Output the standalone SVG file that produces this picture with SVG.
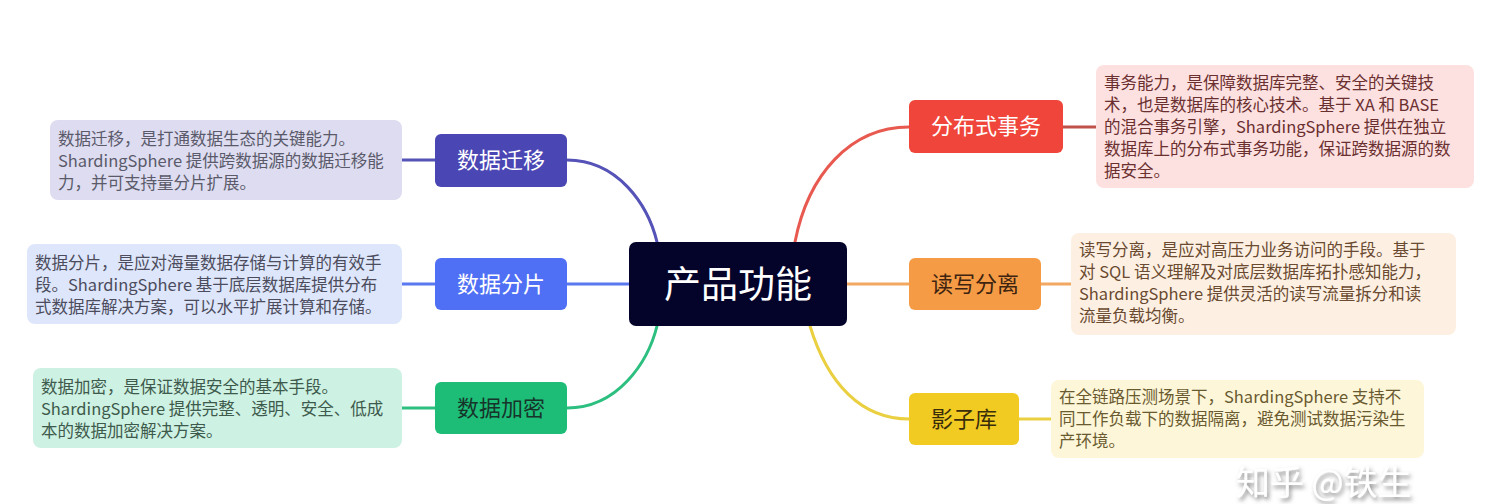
<svg xmlns="http://www.w3.org/2000/svg" width="1504" height="504" viewBox="0 0 1504 504">
<style>
text{font-family:"Noto Sans CJK SC","Noto Sans",sans-serif}
.desc{font-size:16.5px}
.node{font-size:22px;text-anchor:middle}
.conn path,.conn line{fill:none;stroke-width:3;stroke-linecap:round}
</style>
<defs>
<filter id="sh" x="-10%" y="-20%" width="130%" height="150%">
<feDropShadow dx="2" dy="3" stdDeviation="2" flood-color="#555" flood-opacity="0.7"/>
</filter>
</defs>
<rect width="1504" height="504" fill="#ffffff"/>
<g class="conn" id="connectors">
<path d="M567,160 C618,160 648,205 657,242" stroke="#5552b8"/>
<line x1="567" y1="284" x2="629" y2="284" stroke="#5a78f0"/>
<path d="M567,408 C618,408 648,362 657,326" stroke="#2cbf80"/>
<path d="M795,242 C808,175 850,127 909,127" stroke="#e85a50"/>
<line x1="847" y1="284" x2="909" y2="284" stroke="#f2a860"/>
<path d="M810,326 C828,385 862,419 909,419" stroke="#ead040"/>
<line x1="402" y1="160" x2="435" y2="160" stroke="#5552b8"/>
<line x1="402" y1="284" x2="435" y2="284" stroke="#5a78f0"/>
<line x1="402" y1="408" x2="435" y2="408" stroke="#2cbf80"/>
<line x1="1063" y1="127" x2="1096" y2="127" stroke="#c0504a"/>
<line x1="1041" y1="284" x2="1071" y2="284" stroke="#f2a860"/>
<line x1="1019" y1="419" x2="1051" y2="419" stroke="#ead040"/>
</g>
<g id="center">
<rect x="629" y="242" width="218" height="84" rx="7" fill="#04042a"/>
<text x="738" y="298" font-size="37" fill="#ffffff" text-anchor="middle">产品功能</text>
</g>
<g id="n-migrate">
<rect x="435" y="134" width="132" height="53" rx="6" fill="#4a46b4"/>
<text class="node" x="501" y="168" fill="#ffffff">数据迁移</text>
</g>
<g id="n-shard">
<rect x="435" y="258" width="132" height="52" rx="6" fill="#4f6ff4"/>
<text class="node" x="501" y="292" fill="#ffffff">数据分片</text>
</g>
<g id="n-encrypt">
<rect x="435" y="382" width="132" height="52" rx="6" fill="#1dbd78"/>
<text class="node" x="501" y="416" fill="#17342a">数据加密</text>
</g>
<g id="n-tx">
<rect x="909" y="100" width="154" height="53" rx="6" fill="#f0453a"/>
<text class="node" x="986" y="134" fill="#ffffff">分布式事务</text>
</g>
<g id="n-rw">
<rect x="909" y="258" width="132" height="52" rx="6" fill="#f59b45"/>
<text class="node" x="975" y="292" fill="#3e2410">读写分离</text>
</g>
<g id="n-shadow">
<rect x="909" y="393" width="110" height="52" rx="6" fill="#f1ca22"/>
<text class="node" x="964" y="427" fill="#3a2e0a">影子库</text>
</g>
<g id="d-migrate">
<rect x="50" y="120" width="352" height="80" rx="8" fill="#dddcf0"/>
<text class="desc" fill="#5a5a6a"><tspan x="58" y="145">数据迁移，是打通数据生态的关键能力。</tspan><tspan x="58" y="167">ShardingSphere 提供跨数据源的数据迁移能</tspan><tspan x="58" y="189">力，并可支持量分片扩展。</tspan></text>
</g>
<g id="d-shard">
<rect x="27" y="244" width="375" height="80" rx="8" fill="#dde6fb"/>
<text class="desc" fill="#4c4c5c"><tspan x="35" y="269">数据分片，是应对海量数据存储与计算的有效手</tspan><tspan x="35" y="291">段。ShardingSphere 基于底层数据库提供分布</tspan><tspan x="35" y="313">式数据库解决方案，可以水平扩展计算和存储。</tspan></text>
</g>
<g id="d-encrypt">
<rect x="33" y="368" width="369" height="80" rx="8" fill="#cdf1e2"/>
<text class="desc" fill="#3d5a4c"><tspan x="41" y="393">数据加密，是保证数据安全的基本手段。</tspan><tspan x="41" y="415">ShardingSphere 提供完整、透明、安全、低成</tspan><tspan x="41" y="437">本的数据加密解决方案。</tspan></text>
</g>
<g id="d-tx">
<rect x="1096" y="65" width="378" height="123" rx="8" fill="#fde0e0"/>
<text class="desc" fill="#6a3030"><tspan x="1104" y="89">事务能力，是保障数据库完整、安全的关键技</tspan><tspan x="1104" y="111">术，也是数据库的核心技术。基于 XA 和 BASE</tspan><tspan x="1104" y="133">的混合事务引擎，ShardingSphere 提供在独立</tspan><tspan x="1104" y="155">数据库上的分布式事务功能，保证跨数据源的数</tspan><tspan x="1104" y="177">据安全。</tspan></text>
</g>
<g id="d-rw">
<rect x="1071" y="233" width="385" height="102" rx="8" fill="#fdf0e3"/>
<text class="desc" fill="#6a4a30"><tspan x="1079" y="256">读写分离，是应对高压力业务访问的手段。基于</tspan><tspan x="1079" y="278">对 SQL 语义理解及对底层数据库拓扑感知能力，</tspan><tspan x="1079" y="300">ShardingSphere 提供灵活的读写流量拆分和读</tspan><tspan x="1079" y="322">流量负载均衡。</tspan></text>
</g>
<g id="d-shadow">
<rect x="1051" y="380" width="373" height="78" rx="8" fill="#fdf6d8"/>
<text class="desc" fill="#6a5a30"><tspan x="1059" y="403">在全链路压测场景下，ShardingSphere 支持不</tspan><tspan x="1059" y="425">同工作负载下的数据隔离，避免测试数据污染生</tspan><tspan x="1059" y="447">产环境。</tspan></text>
</g>
<g id="watermark">
<text x="1236" y="495" font-size="34" fill="#ffffff" filter="url(#sh)">知乎 @铁生</text>
</g>
</svg>
